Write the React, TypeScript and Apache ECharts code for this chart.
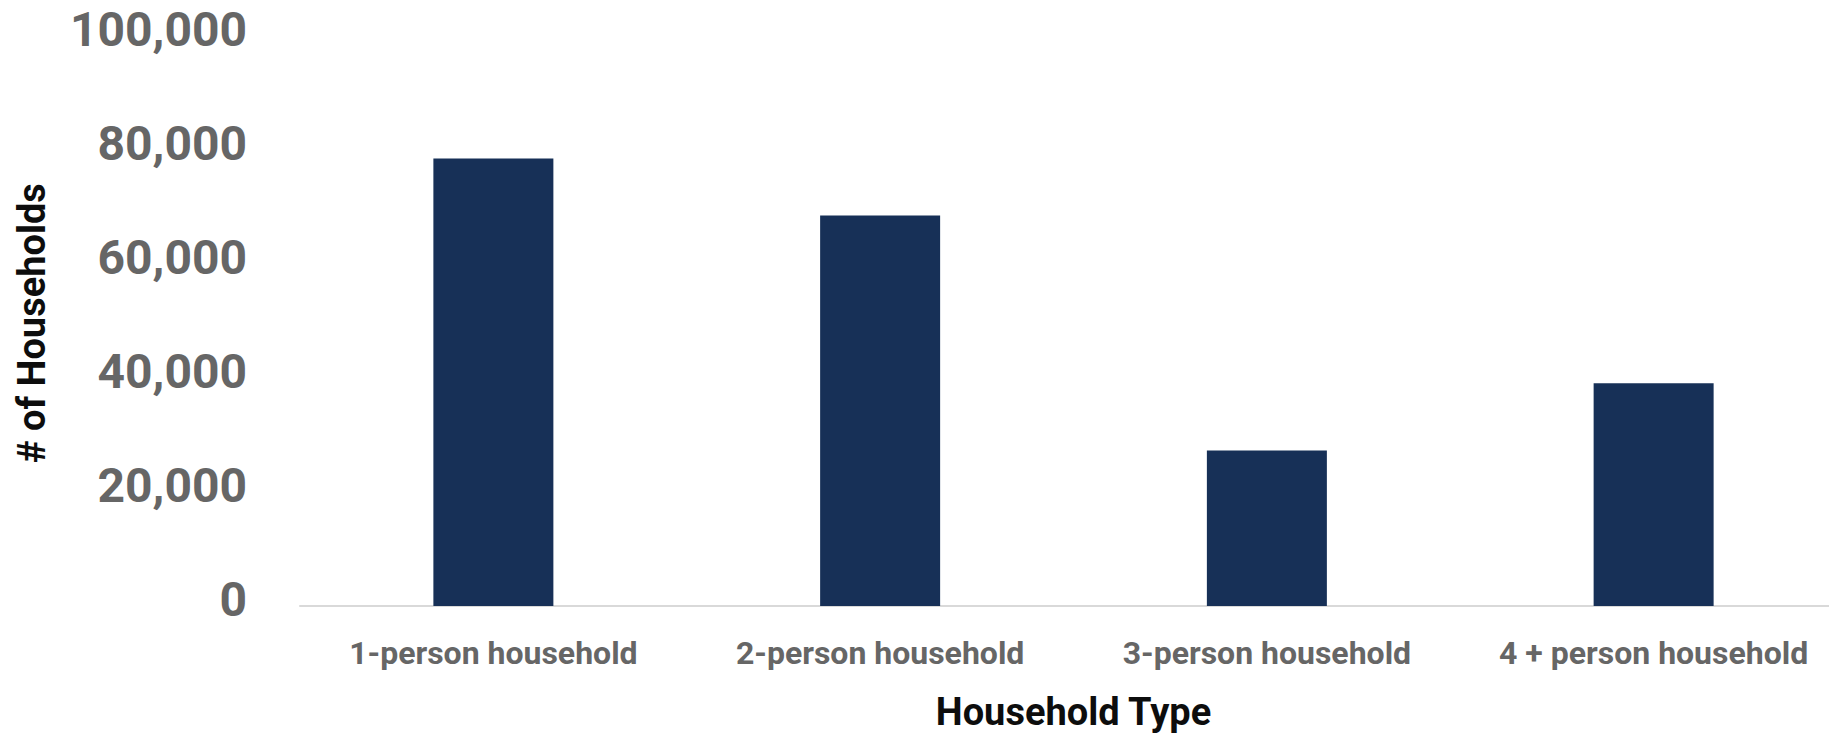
import React, { useEffect, useRef } from "react";
import * as echarts from "echarts";

const categories = ["1-person household", "2-person household", "3-person household", "4 + person household"];
const households = [78500, 68500, 27300, 39100];
const yTicks = { min: 0, max: 100000, interval: 20000 };
const xTitle = "Household Type";
const yTitle = "# of Households";

export default function App() {
  const ref = useRef<HTMLDivElement>(null);
  useEffect(() => {
    if (!ref.current) return;
    const chart = echarts.init(ref.current, null, { renderer: "svg" });
    chart.setOption({
      animation: false,
      backgroundColor: "#ffffff",
      textStyle: { fontFamily: "Roboto" },
      grid: { left: 300, top: 36, width: 1547, bottom: 125, containLabel: false },
      xAxis: {
        type: "category",
        data: categories,
        axisLine: { show: true, lineStyle: { color: "#d9d9d9", width: 2 } },
        axisTick: { show: false },
        axisLabel: { interval: 0, color: "#666666", fontSize: 32, fontWeight: "bold", fontFamily: "Roboto", margin: 31 },
        name: xTitle,
        nameLocation: "middle",
        nameGap: 87,
        nameTextStyle: { color: "#0d0d0d", fontSize: 38, fontWeight: "bold", fontFamily: "Roboto" },
      },
      yAxis: {
        type: "value",
        min: yTicks.min,
        max: yTicks.max,
        interval: yTicks.interval,
        axisLine: { show: false },
        axisTick: { show: false },
        splitLine: { show: false },
        axisLabel: {
          color: "#666666",
          fontSize: 48,
          fontWeight: "bold",
          fontFamily: "Roboto",
          margin: 53,
          verticalAlign: "bottom",
          lineHeight: 13,
          formatter: (v: number) => v.toLocaleString("en-US"),
        },
        name: yTitle,
        nameLocation: "middle",
        nameGap: 249,
        nameTextStyle: { color: "#0d0d0d", fontSize: 38, fontWeight: "bold", fontFamily: "Roboto", padding: [0, 4, 0, 0] },
      },
      series: [
        {
          type: "bar",
          data: households,
          barWidth: 120,
          itemStyle: { color: "#173057" },
        },
      ],
    });
    return () => chart.dispose();
  }, []);
  return (
    <div style={{ position: "absolute", left: 0, top: 0, width: 1829, height: 736, overflow: "hidden", background: "#ffffff" }}>
      <div ref={ref} style={{ width: 1880, height: 736 }} />
    </div>
  );
}
